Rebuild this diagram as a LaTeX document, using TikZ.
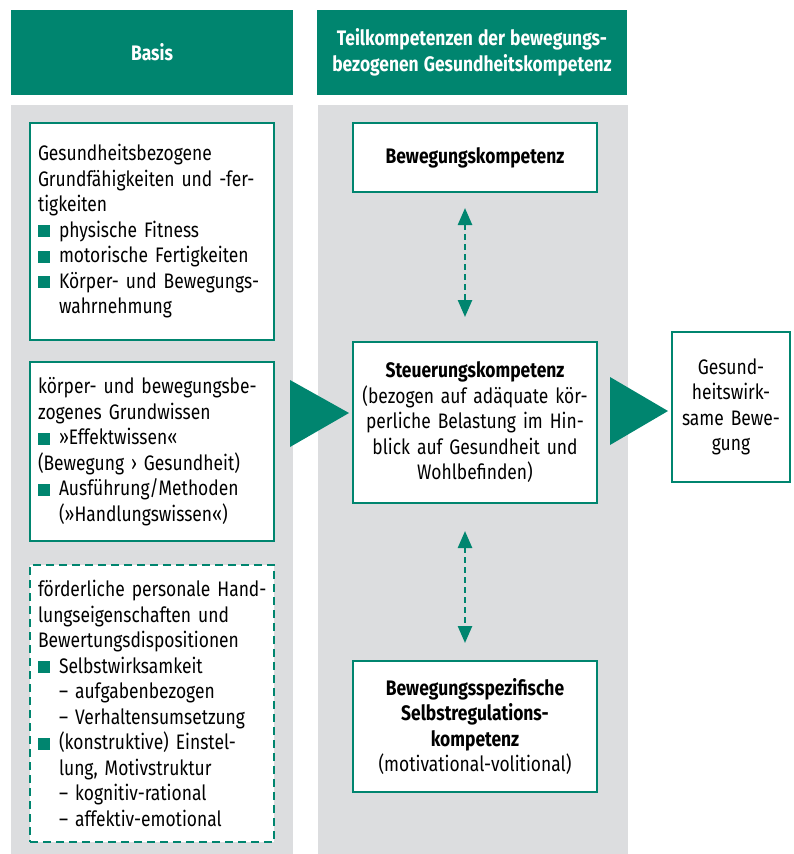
\documentclass[tikz,border=0pt]{standalone}
\usepackage{fontspec}
\setmainfont{Fira Sans}[FakeStretch=0.83]
\usepackage{xcolor}
\usetikzlibrary{arrows.meta}
\definecolor{gteal}{HTML}{00856F}
\definecolor{ggrau}{HTML}{DCDDDF}
\newcommand{\quadrat}{\textcolor{gteal}{\rule{12pt}{12pt}}\hspace{9pt}}
\newcommand{\einzug}{\hspace*{21pt}}
\newcommand{\knapp}{\spaceskip=5pt plus 1pt\relax}
\tikzset{
	kopf/.style={fill=gteal, text=white, inner sep=0pt, align=center, font=\fontsize{21}{26}\selectfont\bfseries\knapp},
	spalte/.style={fill=ggrau, inner sep=0pt},
	basisbox/.style={draw=gteal, line width=2pt, fill=white, minimum width=244pt, text width=228pt, inner sep=8pt, align=left},
	dashbox/.style={basisbox, dash pattern=on 8pt off 5pt},
	kompbox/.style={draw=gteal, line width=2pt, fill=white, minimum width=244pt, text width=228pt, inner sep=8pt, align=center},
	pfeil/.style={gteal, line width=2.5pt, dash pattern=on 6pt off 4pt, {Triangle[width=14pt,length=17pt]}-{Triangle[width=14pt,length=17pt]}},
	keil/.style={fill=gteal}
}
\begin{document}
\begin{tikzpicture}[x=1pt, y=-1pt, every node/.style={font=\fontsize{21}{25.5}\selectfont\knapp}]
	\useasboundingbox (0,0) rectangle (793,854);
	\node[kopf, minimum width=282pt, minimum height=85pt] (kopfbasis) at (152,52.5) {Basis};
	\node[kopf, minimum width=310pt, minimum height=85pt] (kopfteil) at (472,52.5) {Teilkompetenzen der bewegungs-\\bezogenen Gesundheitskompetenz};
	\node[spalte, minimum width=282pt, minimum height=749pt] (spaltebasis) at (152,479.5) {};
	\node[spalte, minimum width=310pt, minimum height=749pt] (spalteteil) at (472.5,479.5) {};

	\node[basisbox, minimum height=217pt] (grundfaehig) at (152,231.5) {Gesundheitsbezogene\\Grundfähigkeiten und -fer-\\tigkeiten\\\quadrat physische Fitness\\\quadrat motorische Fertigkeiten\\\quadrat Körper- und Bewegungs-\\\einzug wahrnehmung};
	\node[basisbox, minimum height=179pt] (grundwissen) at (152,451.5) {körper- und bewegungsbe-\\zogenes Grundwissen\\\quadrat »Effektwissen«\\(Bewegung › Gesundheit)\\\quadrat Ausführung/Methoden\\\einzug (»Handlungswissen«)};
	\node[dashbox, minimum height=277pt] (personal) at (152,703.5) {\mbox{förderliche personale Hand-}\\lungseigenschaften und\\Bewertungsdispositionen\\\quadrat Selbstwirksamkeit\\\einzug – aufgabenbezogen\\\einzug – Verhaltensumsetzung\\\quadrat (konstruktive) Einstel-\\\einzug lung, Motivstruktur\\\einzug – kognitiv-rational\\\einzug – affektiv-emotional};

	\node[kompbox, minimum height=69pt] (bewegung) at (475,157.5) {\textbf{Bewegungskompetenz}};
	\node[kompbox, minimum height=161pt] (steuerung) at (475,422.5) {\textbf{Steuerungskompetenz}\\(bezogen auf adäquate kör-\\perliche Belastung im Hin-\\blick auf Gesundheit und\\Wohlbefinden)};
	\node[kompbox, minimum height=131pt] (selbst) at (475,726.5) {\textbf{Bewegungsspezifische}\\\textbf{Selbstregulations-}\\\textbf{kompetenz}\\(motivational-volitional)};
	\node[kompbox, minimum width=118pt, text width=102pt, minimum height=150pt] (wirksam) at (731,407) {Gesund-\\heitswirk-\\same Bewe-\\gung};

	\fill[keil] (290,380) -- (290,447) -- (349,413) -- cycle;
	\fill[keil] (610,377) -- (610,445) -- (668,411) -- cycle;

	\draw[pfeil, shorten <=15pt, shorten >=24pt] ([xshift=-10pt]bewegung.south) -- ([xshift=-10pt]steuerung.north);
	\draw[pfeil, shorten <=27pt, shorten >=17pt] ([xshift=-10pt]steuerung.south) -- ([xshift=-10pt]selbst.north);
\end{tikzpicture}
\end{document}
